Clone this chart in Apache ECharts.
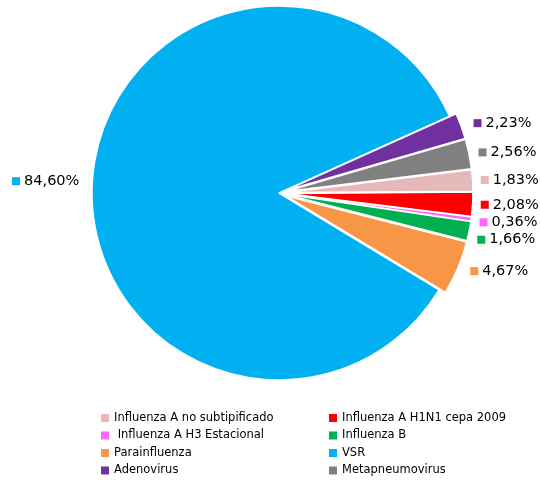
<!DOCTYPE html>
<html>
<head>
<meta charset="utf-8">
<script src="https://cdn.jsdelivr.net/npm/echarts@6/dist/echarts.min.js"></script>
<style>
  html, body { margin: 0; padding: 0; background: #fff; }
  #chart { width: 540px; height: 480px; }
</style>
</head>
<body>
<div id="chart"></div>
<script>
// Virus categories in drawing order (clockwise from the first slice)
const categories = [
  'Influenza A no subtipificado',
  'Influenza A H1N1 cepa 2009',
  ' Influenza A H3 Estacional',
  'Influenza B',
  'Parainfluenza',
  'VSR',
  'Adenovirus',
  'Metapneumovirus'
];
// Share of each virus, in percent
const values = [1.83, 2.08, 0.36, 1.66, 4.67, 84.60, 2.23, 2.56];
const colors = ['#E6B9B8', '#FF0000', '#FF66FF', '#00B050', '#F79646', '#00B0F0', '#7030A0', '#808080'];
// Legend columns
const legendLeft = [categories[0], categories[2], categories[4], categories[6]];
const legendRight = [categories[1], categories[3], categories[5], categories[7]];

const FONT = 'DejaVu Sans';
const fmt = v => v.toFixed(2).replace('.', ',') + '%';

const data = categories.map((name, i) => {
  const big = values[i] > 50;
  return {
    name,
    value: values[i],
    selected: !big,
    itemStyle: { color: colors[i] },
    label: {
      rich: {
        sq: { width: 8, height: 8, backgroundColor: colors[i] },
        t: { fontFamily: FONT, fontSize: 14.5, color: '#000', padding: [0, 0, 0, 4] }
      }
    }
  };
});

const legendBase = {
  orient: 'vertical', top: 406, height: 100,
  itemWidth: 8, itemHeight: 8, itemGap: 3.5, icon: 'rect',
  selectedMode: false,
  itemStyle: { borderWidth: 0 },
  textStyle: { fontFamily: FONT, fontSize: 11.5, color: '#000', lineHeight: 14 }
};

const chart = echarts.init(document.getElementById('chart'), null, { renderer: 'canvas' });
chart.setOption({
  animation: false,
  color: colors,
  legend: [
    Object.assign({}, legendBase, { data: legendLeft, left: 96 }),
    Object.assign({}, legendBase, { data: legendRight, left: 324 })
  ],
  series: [{
    type: 'pie',
    center: [279, 193],
    radius: 187,
    startAngle: 7,
    clockwise: true,
    selectedMode: 'multiple',
    selectedOffset: 7,
    avoidLabelOverlap: true,
    data,
    itemStyle: { borderColor: '#fff', borderWidth: 1.5 },
    select: { itemStyle: { borderColor: '#fff', borderWidth: 1.5 } },
    emphasis: { disabled: true },
    label: {
      show: true,
      position: 'outside',
      formatter: p => '{sq|}{t|' + fmt(p.value) + '}'
    },
    labelLine: { show: false, length: 8, length2: 0 }
  }]
});
</script>
</body>
</html>
